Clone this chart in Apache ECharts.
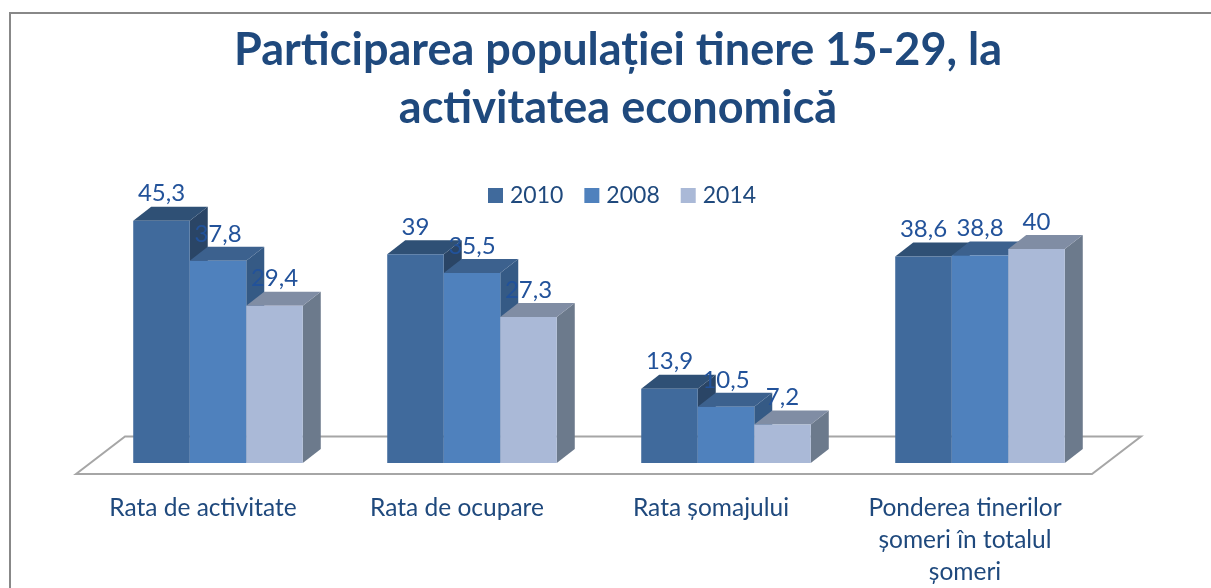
<!DOCTYPE html>
<html>
<head>
<meta charset="utf-8" />
<title>Participarea populației tinere</title>
<script src="https://cdn.jsdelivr.net/npm/echarts@6/dist/echarts.min.js"></script>
<style>
  html, body { margin: 0; padding: 0; background: #fff; overflow: hidden; }
  #chart { width: 1211px; height: 588px; }
</style>
</head>
<body>
<div id="chart"></div>
<script>
const categories = [
  "Rata de activitate",
  "Rata de ocupare",
  "Rata șomajului",
  "Ponderea tinerilor\nșomeri în totalul\nșomeri",
];
const seriesNames = ["2010", "2008", "2014"];
const values2010 = [45.3, 39, 13.9, 38.6];
const values2008 = [37.8, 35.5, 10.5, 38.8];
const values2014 = [29.4, 27.3, 7.2, 40];
const seriesValues = [values2010, values2008, values2014];

const frontColors = ["#406A9C", "#4F81BD", "#AAB9D7"];
const topColors = ["#2F5075", "#3C618E", "#808DA4"];
const sideColors = ["#2A4566", "#355A85", "#6C7A8C"];
const textColor = "#1F497D";
const valueColor = "#22529A"; // a bit brighter so it still reads over the dark sides

// fake 3d box sizes
const depthX = 18;
const depthY = 14;
const barShift = 15; // bars sit right of the label centers
const barShare = 0.2225;

function renderBar(seriesIdx, params, api) {
  const center = api.coord([api.value(0), 0]);
  const top = api.coord([api.value(0), api.value(1)]);
  const band = api.size([1, 0])[0];
  const w = band * barShare;
  const x = center[0] + barShift + (seriesIdx - 1.5) * w;
  const yTop = top[1];
  const yBase = center[1];
  return {
    type: "group",
    children: [
      {
        type: "polygon",
        shape: {
          points: [
            [x + w, yTop],
            [x + w + depthX, yTop - depthY],
            [x + w + depthX, yBase - depthY],
            [x + w, yBase],
          ],
        },
        style: { fill: sideColors[seriesIdx] },
      },
      {
        type: "polygon",
        shape: {
          points: [
            [x, yTop],
            [x + depthX, yTop - depthY],
            [x + w + depthX, yTop - depthY],
            [x + w, yTop],
          ],
        },
        style: { fill: topColors[seriesIdx] },
      },
      {
        type: "rect",
        shape: { x: x, y: yTop, width: w, height: yBase - yTop },
        style: { fill: frontColors[seriesIdx] },
      },
      {
        type: "text",
        x: x + w / 2,
        y: yTop - 27,
        style: {
          text: String(api.value(1)).replace(".", ","),
          fill: valueColor,
          font: "24px Lato",
          align: "center",
          verticalAlign: "middle",
        },
      },
    ],
  };
}

function renderFloor(params) {
  const c = params.coordSys;
  const yBase = c.y + c.height;
  return {
    type: "polygon",
    shape: {
      points: [
        [c.x, yBase + 11],
        [c.x + 49, yBase - 26.5],
        [c.x + c.width + 49, yBase - 26.5],
        [c.x + c.width, yBase + 11],
      ],
    },
    style: { fill: "#fff", stroke: "#A6A6A6", lineWidth: 2 },
  };
}

const chart = echarts.init(document.getElementById("chart"));
chart.setOption({
  animation: false,
  backgroundColor: "#fff",
  title: {
    text: "Participarea populației tinere 15-29, la\nactivitatea economică",
    left: 613,
    top: 16,
    textAlign: "center",
    textStyle: {
      color: textColor,
      fontFamily: "Lato",
      fontWeight: "bold",
      fontSize: 45,
      lineHeight: 58,
    },
  },
  legend: {
    data: seriesNames,
    left: 488,
    top: 184,
    padding: 0,
    icon: "rect",
    itemWidth: 15,
    itemHeight: 15,
    itemGap: 21,
    textStyle: { color: textColor, fontFamily: "Lato", fontSize: 23, padding: [0, 0, 0, 2] },
  },
  graphic: [
    {
      type: "polyline",
      silent: true,
      shape: { points: [[10, 588], [10, 13], [1211, 13]] },
      style: { fill: null, stroke: "#888888", lineWidth: 2 },
    },
  ],
  grid: { left: 76, width: 1016, top: 195.5, bottom: 124.5 },
  xAxis: {
    type: "category",
    data: categories,
    axisLine: { show: false },
    axisTick: { show: false },
    axisLabel: {
      color: textColor,
      fontFamily: "Lato",
      fontSize: 24.5,
      lineHeight: 32,
      margin: 29,
      interval: 0,
    },
  },
  yAxis: { type: "value", min: 0, max: 50, show: false },
  series: [
    {
      type: "custom",
      name: "floor",
      silent: true,
      z: 1,
      data: [[0, 0]],
      renderItem: renderFloor,
    },
  ].concat(
    seriesNames.map((name, i) => ({
      type: "custom",
      name: name,
      z: 2 + i,
      itemStyle: { color: frontColors[i] },
      encode: { x: 0, y: 1 },
      data: seriesValues[i].map((v, idx) => [idx, v]),
      renderItem: (params, api) => renderBar(i, params, api),
    })),
  ),
});
</script>
</body>
</html>
